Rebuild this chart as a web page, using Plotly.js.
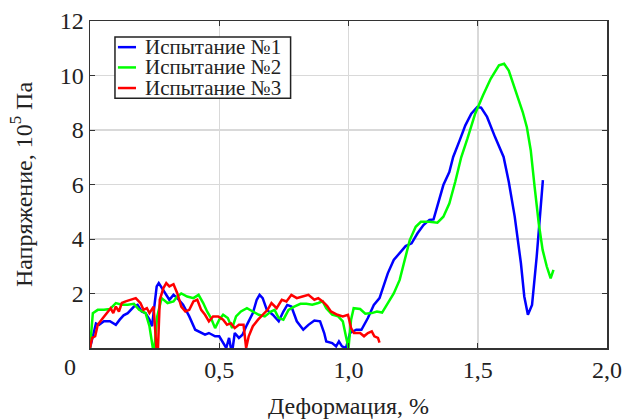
<!DOCTYPE html>
<html>
<head>
<meta charset="utf-8">
<script src="https://cdn.plot.ly/plotly-3.0.1.min.js"></script>
<style>
html,body{margin:0;padding:0;background:#fff;font-family:'Liberation Serif',serif}
#chart{width:623px;height:419px}
#chart svg text{font-family:'Liberation Serif','Times New Roman',serif !important}
</style>
</head>
<body>
<div id="chart"></div>
<script>
// Испытание №1 (blue)
const x1 = [0,0.023,0.035,0.054,0.077,0.10,0.115,0.13,0.146,0.17,0.184,0.20,0.215,0.23,0.24,0.25,0.258,0.266,0.284,0.307,0.323,0.338,0.36,0.384,0.407,0.43,0.445,0.46,0.484,0.50,0.515,0.527,0.538,0.545,0.552,0.56,0.576,0.59,0.607,0.63,0.645,0.656,0.668,0.684,0.707,0.73,0.748,0.763,0.779,0.80,0.825,0.845,0.868,0.89,0.906,0.914,0.937,0.952,0.963,0.975,0.99,1.006,1.03,1.05,1.075,1.098,1.12,1.137,1.152,1.175,1.198,1.221,1.244,1.267,1.29,1.313,1.329,1.344,1.367,1.39,1.405,1.43,1.452,1.475,1.498,1.513,1.536,1.567,1.60,1.62,1.643,1.667,1.68,1.694,1.71,1.728,1.743,1.752];
const y1 = [0,0.9,0.85,0.98,0.98,0.85,1.04,1.2,1.28,1.52,1.58,1.34,1.28,1.04,0.8,1.5,2.26,2.38,2.13,1.77,1.95,1.83,1.59,1.16,0.67,0.55,0.49,0.55,0.43,0.43,0.18,0,0.37,0,0,0.55,0.37,0.49,0.85,1.28,1.77,1.95,1.83,1.4,1.22,0.98,1.34,1.58,1.52,0.98,0.67,0.85,1.01,0.98,0.55,0.24,0.18,0.06,0.24,0.06,0,0.55,0.67,0.67,1.1,1.58,1.83,2.32,2.74,3.23,3.48,3.74,3.84,4.21,4.51,4.7,4.72,5.18,5.98,6.46,7.01,7.62,8.17,8.6,8.84,8.82,8.48,7.74,7.01,6.1,4.82,3.11,1.89,1.22,1.58,3.35,4.94,6.16];

// Испытание №2 (green)
const x2 = [0,0.011,0.03,0.054,0.077,0.10,0.123,0.146,0.17,0.19,0.215,0.23,0.243,0.249,0.26,0.277,0.30,0.323,0.338,0.353,0.376,0.40,0.42,0.438,0.453,0.468,0.484,0.50,0.515,0.533,0.55,0.565,0.584,0.607,0.63,0.653,0.676,0.70,0.714,0.73,0.748,0.768,0.79,0.814,0.837,0.86,0.883,0.90,0.914,0.937,0.96,0.978,0.99,1.0,1.01,1.02,1.045,1.065,1.09,1.11,1.13,1.152,1.175,1.198,1.218,1.237,1.26,1.28,1.313,1.344,1.367,1.39,1.413,1.436,1.46,1.49,1.52,1.55,1.582,1.602,1.62,1.65,1.674,1.69,1.705,1.72,1.736,1.751,1.767,1.782,1.793];
const y2 = [0,1.28,1.4,1.4,1.43,1.65,1.59,1.59,1.62,1.4,1.28,0.8,0,0,1.16,1.83,1.65,1.71,1.89,2.0,1.89,1.83,1.95,1.65,1.34,1.1,0.73,1.04,1.22,1.1,0.73,1.16,1.34,1.46,1.34,1.22,1.16,1.34,1.4,1.1,1.04,1.4,1.52,1.62,1.62,1.59,1.65,1.71,1.46,1.22,1.16,0.98,0.43,0,1.04,1.46,1.43,1.26,1.28,1.34,1.3,1.65,2.0,2.5,3.23,3.96,4.45,4.63,4.63,4.6,4.82,5.3,6.1,7.0,7.68,8.6,9.27,9.88,10.37,10.43,10.18,9.33,8.66,8.1,7.26,5.91,4.57,3.6,2.99,2.56,2.87];

// Испытание №3 (red)
const x3 = [0,0.008,0.02,0.03,0.05,0.07,0.08,0.09,0.10,0.112,0.123,0.138,0.154,0.177,0.195,0.207,0.22,0.23,0.246,0.257,0.263,0.27,0.284,0.295,0.307,0.323,0.338,0.353,0.369,0.384,0.40,0.415,0.43,0.445,0.46,0.476,0.496,0.515,0.53,0.545,0.56,0.576,0.594,0.604,0.614,0.63,0.65,0.668,0.687,0.702,0.722,0.742,0.76,0.779,0.80,0.822,0.845,0.868,0.883,0.90,0.917,0.932,0.957,0.978,0.998,1.01,1.021,1.045,1.06,1.075,1.09,1.10,1.114,1.12];
const y3 = [0,0.37,0.43,0.85,1.1,1.34,1.46,1.28,1.52,1.34,1.65,1.71,1.77,1.83,1.65,1.4,1.46,1.28,1.52,0,0,1.77,2.2,2.38,2.26,2.34,2.0,1.52,1.34,1.4,1.71,1.77,1.4,1.22,0.98,1.16,1.16,1.04,0.85,0.91,0.73,0.85,0.85,0,0.43,0.8,1.04,1.22,1.4,1.65,1.46,1.77,1.71,1.95,1.83,1.89,1.95,1.77,1.83,1.71,1.55,1.34,1.22,1.16,1.22,0.73,0.55,0.55,0.43,0.55,0.61,0.43,0.37,0.2];

const seriesNames = ['Испытание №1', 'Испытание №2', 'Испытание №3'];
const seriesColors = ['#0000ff', '#00ff00', '#ff0000'];

const xTickVals = [0.5, 1.0, 1.5, 2.0];
const xTickText = ['0,5', '1,0', '1,5', '2,0'];
const yTickVals = [2, 4, 6, 8, 10, 12];
const yTickText = ['2', '4', '6', '8', '10', '12'];

const FONT = 'Liberation Serif';
const TXT = '#222';
const xs = [x1, x2, x3], ys = [y1, y2, y3];
const traces = xs.map((x, i) => ({
  x: x, y: ys[i], type: 'scatter', mode: 'lines', name: seriesNames[i],
  line: {color: seriesColors[i], width: 2.5}, showlegend: false
}));

// custom legend built from names/colors
const shapes = [{type: 'rect', xref: 'paper', yref: 'paper', x0: 0.0483, x1: 0.388, y0: 0.764, y1: 0.951,
  line: {color: '#222', width: 1.5}, fillcolor: '#fff', layer: 'above'}];
const annotations = [];
const legY = [0.920, 0.858, 0.795];
seriesNames.forEach((n, i) => {
  shapes.push({type: 'line', xref: 'paper', yref: 'paper', x0: 0.054, x1: 0.089, y0: legY[i], y1: legY[i],
    line: {color: seriesColors[i], width: 2.5}, layer: 'above'});
  annotations.push({xref: 'paper', yref: 'paper', x: 0.102, y: legY[i], xanchor: 'left', yanchor: 'middle',
    text: n, showarrow: false, font: {family: FONT, size: 21, color: TXT}});
});
annotations.push({xref: 'paper', yref: 'paper', x: -0.038, y: 0, xanchor: 'center', yanchor: 'top', yshift: -4,
  text: '0', showarrow: false, font: {family: FONT, size: 24, color: TXT}});

const layout = {
  width: 623, height: 419,
  margin: {l: 90, r: 16, t: 21, b: 71},
  paper_bgcolor: '#fff', plot_bgcolor: '#fff',
  font: {family: FONT, size: 24, color: TXT},
  xaxis: {range: [0, 2], tickvals: xTickVals, ticktext: xTickText, showgrid: true, gridcolor: '#d9d9d9', gridwidth: 1.5,
    zeroline: false, showline: true, linecolor: '#333', linewidth: 1.5, mirror: 'ticks', ticks: 'inside', ticklen: 5,
    tickcolor: '#333', automargin: false, tickfont: {family: FONT, size: 24, color: TXT},
    title: {text: 'Деформация, %', font: {family: FONT, size: 24, color: TXT}}},
  yaxis: {range: [0, 12], tickvals: yTickVals, ticktext: yTickText, showgrid: true, gridcolor: '#d9d9d9', gridwidth: 1.5,
    zeroline: false, showline: true, linecolor: '#333', linewidth: 1.5, mirror: 'ticks', ticks: 'inside', ticklen: 5,
    tickcolor: '#333', automargin: false, tickfont: {family: FONT, size: 24, color: TXT},
    title: {text: 'Напряжение, 10<sup>5</sup> Па', font: {family: FONT, size: 24, color: TXT}}},
  shapes: shapes, annotations: annotations
};
Plotly.newPlot('chart', traces, layout, {staticPlot: true});
</script>
</body>
</html>
